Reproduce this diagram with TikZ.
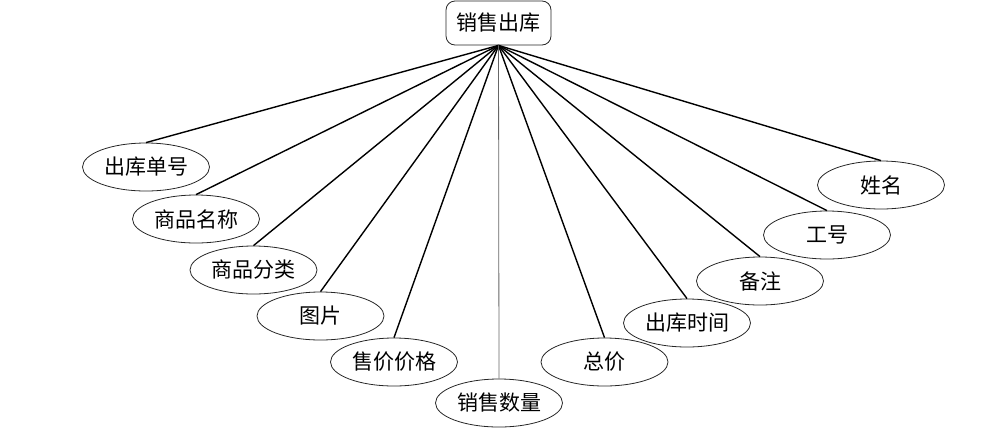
\documentclass[tikz,border=0pt]{standalone}
\usepackage{fontspec}
\newfontfamily\cjk{Noto Sans CJK SC}
\usetikzlibrary{shapes.geometric}
\begin{document}
\begin{tikzpicture}[x=1pt,y=-1pt,
  attr/.style={ellipse,draw=black!85,line width=0.8pt,minimum width=127pt,minimum height=48pt,inner sep=0pt,font=\cjk\fontsize{21}{24}\selectfont},
  rootbox/.style={rectangle,rounded corners=9pt,draw=black!85,line width=0.8pt,minimum width=105pt,minimum height=44pt,inner sep=0pt,font=\cjk\fontsize{21}{24}\selectfont},
  link/.style={line width=1.4pt,black},
  thinlink/.style={line width=0.8pt,black!60}]
\useasboundingbox (0,0) rectangle (1000,437);
\node[rootbox] (root) at (498.5,23) {销售出库};
\node[attr] (a1) at (146,167) {出库单号};
\node[attr] (a2) at (196,219) {商品名称};
\node[attr] (a3) at (253.5,270) {商品分类};
\node[attr] (a4) at (320.5,316) {图片};
\node[attr] (a5) at (394,362) {售价价格};
\node[attr] (a6) at (499,403) {销售数量};
\node[attr] (a7) at (604.5,362) {总价};
\node[attr] (a8) at (687,323) {出库时间};
\node[attr] (a9) at (760,281) {备注};
\node[attr] (a10) at (827,235) {工号};
\node[attr] (a11) at (881,185) {姓名};
\foreach \n in {a1,a2,a3,a4,a5,a7,a8,a9,a10,a11}
  \draw[link] (root.south) -- (\n.north);
\draw[thinlink] (root.south) -- (a6.north);
\end{tikzpicture}
\end{document}
